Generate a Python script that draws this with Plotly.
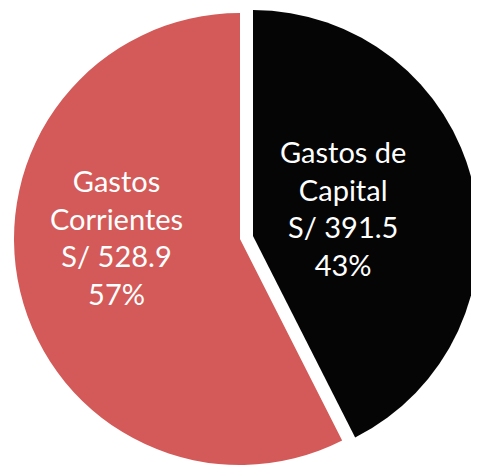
import plotly.graph_objects as go

labels = ["Gastos de<br>Capital", "Gastos<br>Corrientes"]
values = [391.5, 528.9]
colors = ["#050505", "#D35A58"]

# page body has an 8px default margin, so the figure is 8px smaller
W, H = 471, 460
FONT = dict(family="Lato", size=29, color="white")

total = sum(values)
texts = [f"{lab}<br>S/ {v:.1f}<br>{round(100 * v / total):.0f}%" for lab, v in zip(labels, values)]

fig = go.Figure()
# Corrientes slice (in place)
fig.add_trace(go.Pie(
    labels=labels, values=values, sort=False, direction="clockwise", rotation=0,
    marker=dict(colors=["rgba(0,0,0,0)", colors[1]], line=dict(width=0)),
    textinfo="none",
    domain=dict(x=[0.01, 0.975138], y=[0.006522, 0.989131]),
    showlegend=False, hoverinfo="label+value+percent",
))
# Capital slice (pulled out)
fig.add_trace(go.Pie(
    labels=labels, values=values, sort=False, direction="clockwise", rotation=0,
    marker=dict(colors=[colors[0], "rgba(0,0,0,0)"], line=dict(width=0)),
    textinfo="none",
    domain=dict(x=[0.04034, 1.0], y=[0.013043, 0.995652]),
    showlegend=False, hoverinfo="label+value+percent",
))

label_pos = [(0.7113, 0.5652), (0.2314, 0.5022)]
for t, (px, py) in zip(texts, label_pos):
    fig.add_annotation(text=t, x=px, y=py, xref="paper", yref="paper",
                       xanchor="center", yanchor="middle", showarrow=False,
                       font=FONT, align="center")

fig.update_layout(
    width=W, height=H, margin=dict(l=0, r=0, t=0, b=0),
    paper_bgcolor="white", plot_bgcolor="white",
)
fig.write_html("out.html")
